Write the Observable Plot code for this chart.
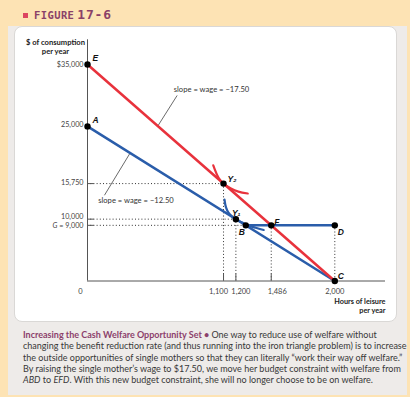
<!DOCTYPE html>
<html><head><meta charset="utf-8">
<script src="https://cdn.jsdelivr.net/npm/d3@7"></script>
<script src="https://cdn.jsdelivr.net/npm/@observablehq/plot@0.6"></script>
<style>
html,body{margin:0;padding:0;}
body{width:410px;height:397px;background:#fde3b4;position:relative;overflow:hidden;font-family:Lato,sans-serif;}
#panel{position:absolute;left:8px;top:26px;width:399px;height:369px;background:#eeebe9;}
#card{position:absolute;left:14px;top:26px;width:383px;height:296px;background:#fff;border-radius:8px;box-sizing:border-box;border:1px solid #dad8d6;}
#sq{position:absolute;left:23px;top:13px;width:5px;height:5px;background:#dc4560;}
#title{position:absolute;left:34px;top:6px;font-family:"DejaVu Sans Mono",monospace;font-weight:bold;color:#8a4068;line-height:16px;white-space:nowrap;}
#title .w{font-size:10.5px;letter-spacing:0.4px;}
#title .n{font-size:13px;letter-spacing:0.8px;margin-left:3px;}
#chart{position:absolute;left:0;top:0;}
#caption{position:absolute;left:23px;top:329px;font-size:9px;line-height:11.25px;color:#383838;white-space:nowrap;}
#caption .lead{color:#8c3f6b;font-weight:bold;}
</style></head>
<body>
<div id="panel"></div>
<div id="card"></div>
<div id="sq"></div>
<div id="title"><span class="w">FIGURE</span><span class="n">17-6</span></div>
<div id="chart"></div>
<div id="caption"><span class="lead">Increasing the Cash Welfare Opportunity Set •</span> One way to reduce use of welfare without<br>changing the benefit reduction rate (and thus running into the iron triangle problem) is to increase<br>the outside opportunities of single mothers so that they can literally “work their way off welfare.”<br>By raising the single mother’s wage to $17.50, we move her budget constraint with welfare from<br><i>ABD</i> to <i>EFD</i>. With this new budget constraint, she will no longer choose to be on welfare.</div>
<script>
// ---- data ----
const pointNames = ["E", "A", "Y₂", "Y₁", "B", "F", "D", "C"];
const pointHours = [0, 0, 1100, 1200, 1280, 1486, 2000, 2000];
const pointDollars = [35000, 25000, 15750, 10000, 9000, 9000, 9000, 0];

const redLineHours = [0, 2000];
const redLineDollars = [35000, 0];
const blueLineHours = [0, 2000];
const blueLineDollars = [25000, 0];
const welfareHours = [1280, 2000];
const welfareDollars = [9000, 9000];

const redCurveHours = [1017, 1060, 1100, 1160, 1220, 1296];
const redCurveDollars = [18700, 16700, 15750, 14950, 14450, 14150];
const blueCurveHours = [1108, 1120, 1140, 1170, 1200, 1240, 1300, 1360, 1425];
const blueCurveDollars = [13170, 11900, 11050, 10420, 10000, 9560, 8980, 8600, 8250];

const yTickValues = [35000, 25000, 15750, 10000, 9000];
const yTickLabels = ["$35,000", "25,000", "15,750", "10,000", "G = 9,000"];
const xTickValues = [0, 1100, 1200, 1486, 2000];
const xTickLabels = ["0", "1,100", "1,200", "1,486", "2,000"];
const yMarkTicks = [15750, 10000, 9000];
const xMarkTicks = [1100, 1200, 1486];

const hGuides = ["Y₂", "Y₁", "B"];
const vGuides = ["Y₂", "Y₁", "F", "D"];

const annotationTexts = ["slope = wage = −17.50", "slope = wage = −12.50"];
const annotationHours = [1003, 392];
const annotationDollars = [30900, 12950];
const leaderStartHours = [725, 137];
const leaderStartDollars = [30000, 13860];
const leaderEndHours = [566, 348];
const leaderEndDollars = [24980, 20800];

// ---- styles ----
const RED = "#e8323c", BLUE = "#2a5daa", AX = "#555";
const labelOffsets = {"E": [5, -6], "A": [5, -6], "Y₂": [4, -4], "Y₁": [-4, -6], "B": [-7, 7], "F": [3, -3], "D": [3, 7], "C": [3, -5]};
const yLabelDy = {35000: 0, 25000: -1.5, 15750: -0.5, 10000: -2.6, 9000: 0.4};
const xLabelDx = {0: -7, 1100: -5, 1200: 5, 1486: 6, 2000: 0};

// ---- tables ----
const pts = pointNames.map((n, i) => ({name: n, h: pointHours[i], d: pointDollars[i]}));
const byName = new Map(pts.map(p => [p.name, p]));
const zip = (a, b) => a.map((v, i) => ({h: v, d: b[i]}));
const redLine = zip(redLineHours, redLineDollars);
const blueLine = zip(blueLineHours, blueLineDollars);
const welfare = zip(welfareHours, welfareDollars);
const redCurve = zip(redCurveHours, redCurveDollars);
const blueCurve = zip(blueCurveHours, blueCurveDollars);
const yTicks = yTickValues.map((v, i) => ({v, label: yTickLabels[i]}));
const xTicks = xTickValues.map((v, i) => ({v, label: xTickLabels[i]}));
const annos = annotationTexts.map((t, i) => ({t, h: annotationHours[i], d: annotationDollars[i],
  h1: leaderStartHours[i], d1: leaderStartDollars[i], h2: leaderEndHours[i], d2: leaderEndDollars[i]}));

const labelMarks = pts.map(p => Plot.text([p], {x: "h", y: "d", text: "name", textAnchor: "start",
  dx: labelOffsets[p.name][0], dy: labelOffsets[p.name][1], fontSize: 8.5, fontWeight: "bold", fontStyle: "italic",
  fontFamily: "Liberation Sans, Arial, sans-serif", fill: "#111"}));
const yLabelMarks = yTicks.map(t => Plot.text([t], {x: () => 0, y: "v", text: "label", textAnchor: "end",
  dx: -4, dy: yLabelDy[t.v], fontSize: 7.2, fill: "#444"}));
const xLabelMarks = xTicks.map(t => Plot.text([t], {x: "v", y: () => 0, text: "label", textAnchor: "middle",
  dx: xLabelDx[t.v], dy: 11, fontSize: 7.5, fill: "#444"}));

const chart = Plot.plot({
  width: 410, height: 322,
  marginLeft: 87, marginRight: 25, marginTop: 39.3, marginBottom: 41.5,
  x: {domain: [0, 2410], axis: null},
  y: {domain: [0, 39000], axis: null},
  style: {background: "transparent", fontFamily: "Lato, sans-serif", color: AX, overflow: "visible"},
  marks: [
    // dotted guides
    Plot.ruleY(hGuides.map(n => byName.get(n)), {y: "d", x1: 0, x2: "h", stroke: "#333", strokeWidth: 1, strokeDasharray: "1,2.2"}),
    Plot.ruleX(vGuides.map(n => byName.get(n)), {x: "h", y1: 0, y2: "d", stroke: "#333", strokeWidth: 1, strokeDasharray: "1,2.2"}),
    // axes
    Plot.ruleX([0], {stroke: AX, strokeWidth: 1}),
    Plot.ruleY([0], {stroke: AX, strokeWidth: 1}),
    Plot.ruleY(yMarkTicks, {y: d => d, x1: 0, x2: 55, stroke: AX, strokeWidth: 1}),
    Plot.ruleX(xMarkTicks, {x: d => d, y1: 0, y2: 1100, stroke: AX, strokeWidth: 1}),
    ...yLabelMarks,
    ...xLabelMarks,
    Plot.text(["$ of consumption\nper year"], {frameAnchor: "top-left", text: d => d, dx: -32, dy: -1, textAnchor: "middle", lineAnchor: "top", lineHeight: 1.2, fontSize: 7.6, fontWeight: "bold", fill: "#222"}),
    Plot.text(["Hours of leisure\nper year"], {frameAnchor: "bottom-right", text: d => d, dy: 17.5, textAnchor: "end", lineAnchor: "top", lineHeight: 1.15, fontSize: 7.3, fontWeight: "bold", fill: "#222"}),
    // annotations
    Plot.link(annos, {x1: "h1", y1: "d1", x2: "h2", y2: "d2", stroke: "#444", strokeWidth: 0.8}),
    Plot.text(annos, {x: "h", y: "d", text: "t", fontSize: 7.6, fill: "#333"}),
    // budget lines
    Plot.line(blueLine, {x: "h", y: "d", stroke: BLUE, strokeWidth: 2.5}),
    Plot.line(welfare, {x: "h", y: "d", stroke: BLUE, strokeWidth: 2.5}),
    Plot.line(blueCurve, {x: "h", y: "d", stroke: BLUE, strokeWidth: 2.2, curve: "catmull-rom"}),
    Plot.line(redLine, {x: "h", y: "d", stroke: RED, strokeWidth: 2.5}),
    Plot.line(redCurve, {x: "h", y: "d", stroke: RED, strokeWidth: 2.2, curve: "catmull-rom"}),
    // points
    Plot.dot(pts, {x: "h", y: "d", r: 3.2, fill: "#000", stroke: "none"}),
    ...labelMarks
  ]
});
document.getElementById("chart").appendChild(chart);

// italic G in the tick label
d3.select(chart).selectAll("text").filter(function() { return this.textContent === "G = 9,000"; })
  .each(function() {
    const t = d3.select(this);
    t.text(null);
    t.append("tspan").attr("font-style", "italic").text("G");
    t.append("tspan").text(" = 9,000");
  });
</script>
</body></html>
